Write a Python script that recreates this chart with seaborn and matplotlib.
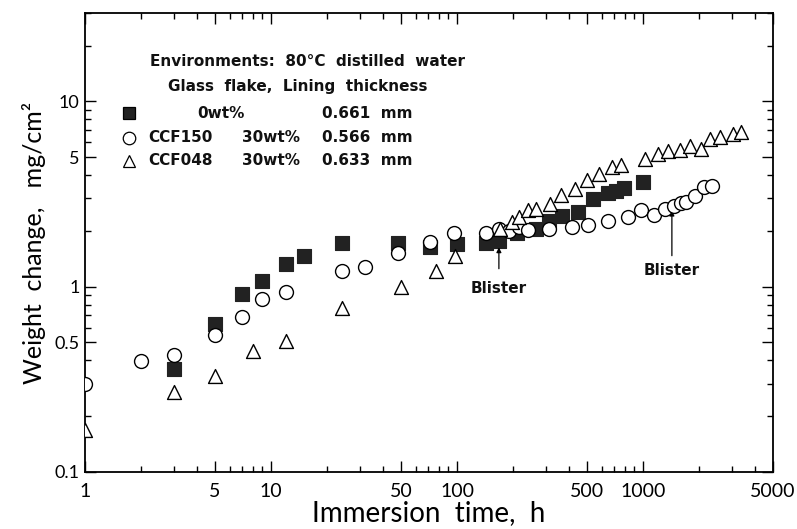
import numpy as np
import pandas as pd
import matplotlib
matplotlib.use("Agg")
import matplotlib.pyplot as plt
import seaborn as sns
from matplotlib.ticker import FixedLocator, FixedFormatter, LogLocator, NullFormatter

# ---- data ----
# 0wt% (filled squares)
sq_x = [3, 5, 7, 9, 12, 15, 24, 48, 72, 100, 144, 168, 210, 265, 312, 368,
        450, 540, 650, 720, 790, 1000]
sq_y = [0.36, 0.63, 0.91, 1.07, 1.32, 1.47, 1.72, 1.72, 1.63, 1.70, 1.72, 1.77,
        1.96, 2.06, 2.26, 2.41, 2.54, 2.97, 3.20, 3.28, 3.40, 3.65]

# CCF150 30wt% (open circles)
ci_x = [1, 2, 3, 5, 7, 9, 12, 24, 32, 48, 72, 96, 144, 168, 190, 215, 240, 312,
        415, 505, 650, 835, 980, 1145, 1320, 1460, 1600, 1710, 1900, 2120, 2360]
ci_y = [0.30, 0.395, 0.43, 0.55, 0.69, 0.86, 0.94, 1.21, 1.28, 1.52, 1.74, 1.95,
        1.96, 2.04, 2.00, 2.10, 2.02, 2.06, 2.10, 2.16, 2.25, 2.38, 2.58, 2.44,
        2.62, 2.72, 2.82, 2.86, 3.10, 3.44, 3.50]

# CCF048 30wt% (open triangles)
tr_x = [1, 3, 5, 8, 12, 24, 50, 77, 98, 170, 198, 215, 242, 267, 315, 364, 429,
        498, 580, 678, 758, 1020, 1210, 1370, 1580, 1790, 2040, 2290, 2580, 3060, 3350]
tr_y = [0.168, 0.27, 0.33, 0.45, 0.506, 0.77, 0.99, 1.22, 1.47, 2.05, 2.22, 2.38,
        2.59, 2.62, 2.81, 3.12, 3.36, 3.76, 4.05, 4.40, 4.54, 4.87, 5.22, 5.40,
        5.47, 5.74, 5.51, 6.24, 6.42, 6.64, 6.86]

x_ticks = [1, 5, 10, 50, 100, 500, 1000, 5000]
x_ticklabels = ["1", "5", "10", "50", "100", "500", "1000", "5000"]
y_ticks = [0.1, 0.5, 1, 5, 10]
y_ticklabels = ["0.1", "0.5", "1", "5", "10"]

legend_rows = [("s", "0wt%", "", "0.661  mm"),
               ("o", "CCF150", "30wt%", "0.566  mm"),
               ("^", "CCF048", "30wt%", "0.633  mm")]

# blister annotations: x, text y, arrow start y, arrow tip y
blister_x = [168, 1430]
blister_text_y = [0.98, 1.22]
blister_from_y = [1.25, 1.47]
blister_to_y = [1.63, 2.57]

# ---- plot ----
sns.set_style("ticks")
plt.rcParams["font.family"] = ["DejaVu Sans"]

fig = plt.figure(figsize=(7.97, 5.29), dpi=100)
ax = fig.add_axes([0.1066, 0.1078, 0.8633, 0.8677])

sns.scatterplot(x=sq_x, y=sq_y, marker="s", s=90, color="#222222",
                edgecolor="#222222", linewidth=0.8, ax=ax, zorder=3)
sns.scatterplot(x=ci_x, y=ci_y, marker="o", s=100, facecolor="white",
                edgecolor="black", linewidth=1.0, ax=ax, zorder=4)
sns.scatterplot(x=tr_x, y=tr_y, marker="^", s=100, facecolor="white",
                edgecolor="black", linewidth=1.0, ax=ax, zorder=4)

ax.set_xscale("log")
ax.set_yscale("log")
ax.set_xlim(1, 5000)
ax.set_ylim(0.1, 30)

ax.xaxis.set_major_locator(FixedLocator(x_ticks))
ax.xaxis.set_major_formatter(FixedFormatter(x_ticklabels))
ax.yaxis.set_major_locator(FixedLocator(y_ticks))
ax.yaxis.set_major_formatter(FixedFormatter(y_ticklabels))
for axis in (ax.xaxis, ax.yaxis):
    axis.set_minor_locator(LogLocator(base=10, subs=np.arange(2, 10)))
    axis.set_minor_formatter(NullFormatter())

ax.tick_params(which="both", direction="in", top=True, right=True,
               width=1.0, color="black", labelcolor="black")
ax.tick_params(which="major", length=8)
ax.tick_params(which="minor", length=4)
ax.tick_params(axis="x", which="major", labelsize=14, pad=8)
ax.tick_params(axis="y", which="major", labelsize=13, pad=4)
for lab in ax.get_xticklabels() + ax.get_yticklabels():
    lab.set_family("Lato")
for sp in ax.spines.values():
    sp.set_visible(True)
    sp.set_linewidth(1.3)
    sp.set_color("black")

ax.set_xlabel("Immersion  time,  h", fontsize=20, family="Lato",
              color="black", labelpad=0)
ax.set_ylabel("Weight  change,   mg/cm²", fontsize=18, family="Lato",
              color="black", labelpad=6)

# legend-like text block
tkw = dict(transform=ax.transAxes, fontsize=11, fontweight="bold",
           va="center", ha="left", color="#111111")
ax.text(0.094, 0.895, "Environments:  80°C  distilled  water", **tkw)
ax.text(0.121, 0.839, "Glass  flake,  Lining  thickness", **tkw)
row_y = [0.782, 0.728, 0.678]
for (mk, name, pct, thick), yy in zip(legend_rows, row_y):
    face = "#222222" if mk == "s" else "white"
    ax.plot([0.064], [yy], marker=mk, ms=9, mfc=face, mec="black", mew=0.9,
            transform=ax.transAxes, ls="none", clip_on=False)
    if pct:
        ax.text(0.092, yy, name, **tkw)
        ax.text(0.228, yy, pct, **tkw)
    else:
        ax.text(0.163, yy, name, **tkw)
    ax.text(0.345, yy, thick, **tkw)

for bx, ty, y0, y1 in zip(blister_x, blister_text_y, blister_from_y, blister_to_y):
    ax.annotate("", xy=(bx, y1), xytext=(bx, y0),
                arrowprops=dict(arrowstyle="-|>", color="black", lw=0.9,
                                mutation_scale=7, shrinkA=0, shrinkB=0))
    ax.text(bx, ty, "Blister", fontsize=11, fontweight="bold",
            ha="center", va="center", color="#111111")

fig.savefig("out.png", dpi=100)
